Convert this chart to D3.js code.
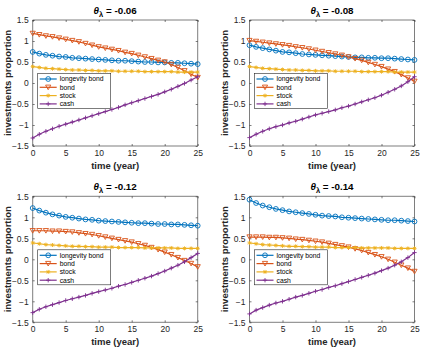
<!DOCTYPE html>
<html>
<head>
<meta charset="utf-8">
<script src="https://cdn.jsdelivr.net/npm/d3@7"></script>
<style>
  body { margin: 0; background: #fff; }
  text { font-family: "Liberation Sans", Arial, sans-serif; }
</style>
</head>
<body>
<div id="chart"></div>
<script>
// data
const years = d3.range(0, 26);
const thetas = ["-0.06", "-0.08", "-0.12", "-0.14"];
const seriesNames = ["longevity bond", "bond", "stock", "cash"];
const yTicks = [-1.5, -1, -0.5, 0, 0.5, 1, 1.5];
const xTicks = [0, 5, 10, 15, 20, 25];

const longevity06 = [0.74,0.70,0.67,0.65,0.63,0.62,0.60,0.59,0.58,0.57,0.56,0.55,0.54,0.53,0.53,0.52,0.51,0.50,0.50,0.49,0.49,0.48,0.48,0.47,0.46,0.45];
const bond06 = [1.18,1.15,1.12,1.10,1.07,1.04,1.01,0.98,0.94,0.90,0.86,0.83,0.80,0.77,0.73,0.70,0.66,0.62,0.58,0.54,0.50,0.44,0.37,0.29,0.21,0.13];
const stock06 = [0.39,0.37,0.35,0.34,0.33,0.32,0.31,0.31,0.30,0.30,0.29,0.29,0.29,0.28,0.28,0.28,0.28,0.27,0.27,0.27,0.27,0.27,0.26,0.26,0.26,0.26];
const cash06 = [-1.31,-1.22,-1.15,-1.09,-1.03,-0.98,-0.93,-0.88,-0.83,-0.78,-0.73,-0.68,-0.63,-0.58,-0.52,-0.47,-0.42,-0.37,-0.32,-0.27,-0.21,-0.15,-0.08,-0.01,0.07,0.15];

const longevity08 = [0.90,0.86,0.83,0.80,0.77,0.74,0.73,0.71,0.69,0.68,0.67,0.66,0.65,0.64,0.63,0.62,0.61,0.61,0.60,0.60,0.59,0.59,0.58,0.57,0.56,0.55];
const bond08 = [1.01,0.99,0.97,0.95,0.93,0.91,0.89,0.86,0.84,0.81,0.78,0.75,0.72,0.69,0.66,0.62,0.58,0.54,0.49,0.44,0.39,0.33,0.27,0.20,0.12,0.04];
const stock08 = [0.39,0.37,0.35,0.34,0.33,0.32,0.31,0.31,0.30,0.30,0.29,0.29,0.29,0.28,0.28,0.28,0.28,0.27,0.27,0.27,0.27,0.27,0.26,0.26,0.26,0.26];
const cash08 = [-1.30,-1.22,-1.15,-1.09,-1.04,-1.00,-0.95,-0.91,-0.86,-0.81,-0.76,-0.72,-0.68,-0.64,-0.59,-0.55,-0.50,-0.45,-0.40,-0.35,-0.29,-0.22,-0.15,-0.07,0.03,0.15];

const longevity12 = [1.22,1.16,1.11,1.07,1.04,1.01,0.99,0.97,0.95,0.94,0.92,0.91,0.90,0.89,0.88,0.87,0.86,0.86,0.85,0.84,0.84,0.83,0.83,0.82,0.81,0.80];
const bond12 = [0.68,0.68,0.68,0.67,0.67,0.66,0.65,0.63,0.61,0.59,0.56,0.53,0.50,0.47,0.44,0.41,0.37,0.33,0.28,0.23,0.17,0.11,0.04,-0.03,-0.10,-0.18];
const stock12 = [0.39,0.37,0.35,0.34,0.33,0.32,0.31,0.31,0.30,0.30,0.29,0.29,0.29,0.28,0.28,0.28,0.28,0.27,0.27,0.27,0.27,0.27,0.26,0.26,0.26,0.26];
const cash12 = [-1.27,-1.19,-1.13,-1.08,-1.03,-0.98,-0.94,-0.90,-0.86,-0.81,-0.77,-0.73,-0.69,-0.64,-0.60,-0.55,-0.50,-0.45,-0.40,-0.34,-0.28,-0.21,-0.14,-0.06,0.04,0.14];

const longevity14 = [1.42,1.34,1.28,1.24,1.20,1.17,1.14,1.12,1.10,1.08,1.06,1.04,1.03,1.02,1.00,0.99,0.98,0.97,0.96,0.95,0.94,0.93,0.93,0.92,0.91,0.90];
const bond14 = [0.53,0.53,0.53,0.52,0.52,0.51,0.50,0.48,0.47,0.45,0.43,0.41,0.38,0.35,0.32,0.29,0.25,0.21,0.16,0.11,0.06,0.00,-0.07,-0.14,-0.21,-0.29];
const stock14 = [0.39,0.37,0.35,0.34,0.33,0.32,0.31,0.31,0.30,0.30,0.29,0.29,0.29,0.28,0.28,0.28,0.28,0.27,0.27,0.27,0.27,0.27,0.26,0.26,0.26,0.26];
const cash14 = [-1.30,-1.21,-1.15,-1.09,-1.04,-1.00,-0.95,-0.90,-0.86,-0.81,-0.76,-0.72,-0.67,-0.63,-0.58,-0.53,-0.48,-0.43,-0.38,-0.33,-0.27,-0.21,-0.14,-0.06,0.04,0.16];

const panelSeries = [
  [longevity06, bond06, stock06, cash06],
  [longevity08, bond08, stock08, cash08],
  [longevity12, bond12, stock12, cash12],
  [longevity14, bond14, stock14, cash14]
];

const colors = ["#0072BD", "#D95319", "#EDB120", "#7E2F8E"];

// layout
const W = 422, H = 354;
const pw = 165, ph = 126;
const origins = [[32.7, 20], [249.5, 20], [32.7, 196.3], [249.5, 196.3]];

const svg = d3.select("#chart").append("svg").attr("width", W).attr("height", H);

const x = d3.scaleLinear().domain([0, 25]).range([0, pw]);
const y = d3.scaleLinear().domain([-1.5, 1.5]).range([ph, 0]);

// marker painters
const drawMarker = (g, kind, color) => {
  if (kind === 0) {
    g.append("circle").attr("r", 2.4).attr("fill", "none").attr("stroke", color).attr("stroke-width", 0.9);
  } else if (kind === 1) {
    g.append("path").attr("d", "M-2.6,-2.2L2.6,-2.2L0,2.4Z").attr("fill", "none").attr("stroke", color).attr("stroke-width", 0.9);
  } else if (kind === 2) {
    g.append("path").attr("d", "M-2,0L2,0M0,-2L0,2M-1.5,-1.5L1.5,1.5M-1.5,1.5L1.5,-1.5").attr("stroke", color).attr("stroke-width", 0.9);
  } else {
    g.append("path").attr("d", "M-2.2,0L2.2,0M0,-2.2L0,2.2").attr("stroke", color).attr("stroke-width", 0.9);
  }
};

const line = d3.line().x((d, i) => x(years[i])).y(d => y(d));

panelSeries.forEach((series, p) => {
  const g = svg.append("g").attr("transform", `translate(${origins[p][0]},${origins[p][1]})`);

  // axes with inward ticks
  const xa = g.append("g").attr("transform", `translate(0,${ph})`)
    .call(d3.axisBottom(x).tickValues(xTicks).tickSize(-2).tickPadding(4).tickFormat(d3.format("d")));
  const xt = g.append("g").call(d3.axisTop(x).tickValues(xTicks).tickSize(-2).tickFormat(""));
  const ya = g.append("g")
    .call(d3.axisLeft(y).tickValues(yTicks).tickSize(-2).tickPadding(4).tickFormat(d => d3.format("")(d)));
  const yr = g.append("g").attr("transform", `translate(${pw},0)`)
    .call(d3.axisRight(y).tickValues(yTicks).tickSize(-2).tickFormat(""));
  [xa, xt, ya, yr].forEach(a => {
    a.selectAll("path.domain").attr("stroke", "#262626").attr("stroke-width", 0.6);
    a.selectAll(".tick line").attr("stroke", "#262626").attr("stroke-width", 0.6);
    a.selectAll("text").attr("fill", "#262626").style("font-size", "8.5px").style("font-family", "Liberation Sans, Arial, sans-serif");
  });
  // trim the zero-length outer ticks of the domain path
  [xa, xt].forEach(a => a.select("path.domain").attr("d", `M0,0H${pw}`));
  [ya, yr].forEach(a => a.select("path.domain").attr("d", `M0,0V${ph}`));

  // series
  series.forEach((vals, s) => {
    g.append("path").datum(vals).attr("d", line)
      .attr("fill", "none").attr("stroke", colors[s]).attr("stroke-width", 1.2);
    const m = g.append("g").selectAll("g").data(vals).join("g")
      .attr("transform", (d, i) => `translate(${x(years[i])},${y(d)})`);
    m.each(function () { drawMarker(d3.select(this), s, colors[s]); });
  });

  // title
  const t = g.append("text").attr("x", pw / 2).attr("y", -6).attr("text-anchor", "middle")
    .attr("font-weight", "bold").style("font-size", "9.8px").attr("fill", "#000");
  t.append("tspan").attr("font-style", "italic").text("θ");
  t.append("tspan").attr("dy", 2.5).style("font-size", "7.5px").text("λ");
  t.append("tspan").attr("dy", -2.5).text(" = " + thetas[p]);

  // axis labels
  g.append("text").attr("x", pw / 2).attr("y", ph + 23).attr("text-anchor", "middle")
    .attr("font-weight", "bold").style("font-size", "9.5px").attr("fill", "#262626").text("time (year)");
  g.append("text").attr("transform", `translate(-22,${ph / 2}) rotate(-90)`).attr("text-anchor", "middle")
    .attr("font-weight", "bold").style("font-size", "9.5px").attr("fill", "#262626").text("investments proportion");

  // legend
  const lg = g.append("g").attr("transform", "translate(5,53.5)");
  lg.append("rect").attr("width", 73).attr("height", 35).attr("fill", "#fff")
    .attr("stroke", "#262626").attr("stroke-width", 0.6);
  seriesNames.forEach((name, s) => {
    const row = lg.append("g").attr("transform", `translate(0,${5.5 + s * 8.3})`);
    row.append("line").attr("x1", 2).attr("x2", 19).attr("stroke", colors[s]).attr("stroke-width", 1.2);
    drawMarker(row.append("g").attr("transform", "translate(10.5,0)"), s, colors[s]);
    row.append("text").attr("x", 22).attr("y", 2.4).style("font-size", "6.8px").attr("fill", "#000").text(name);
  });
});
</script>
</body>
</html>
